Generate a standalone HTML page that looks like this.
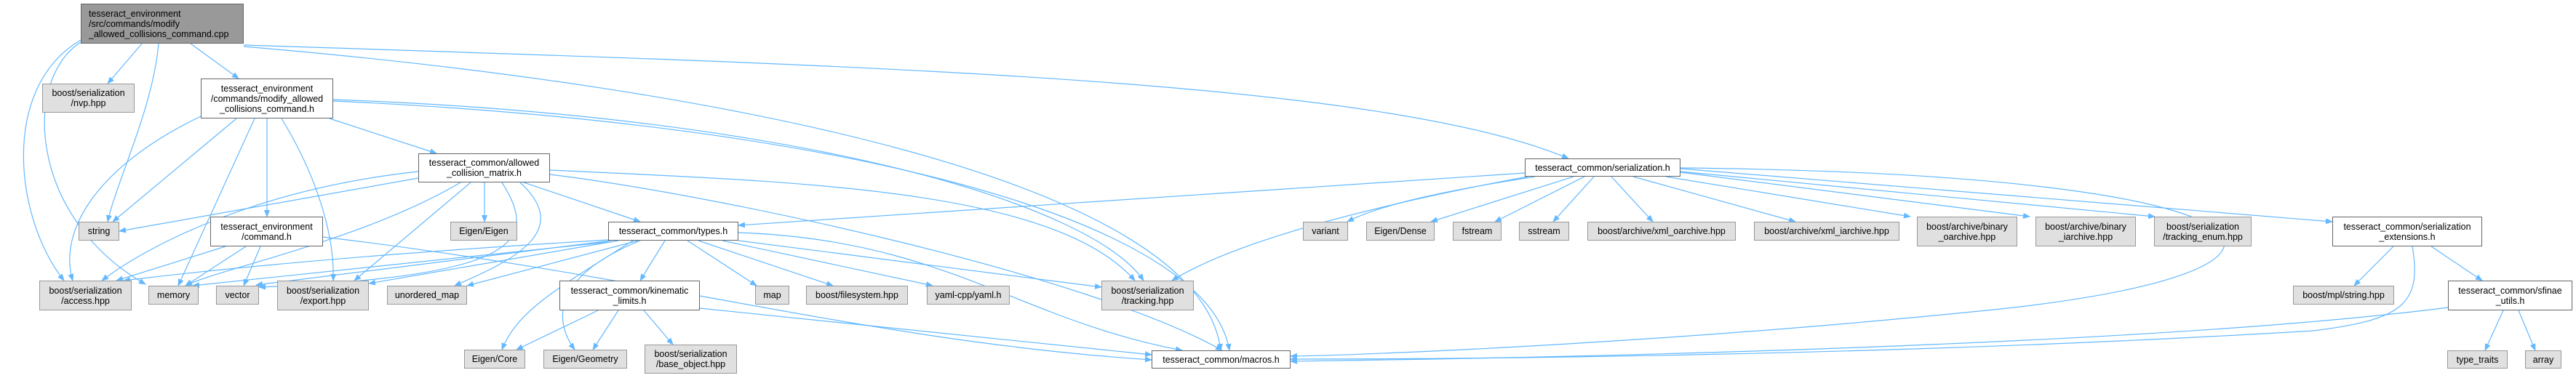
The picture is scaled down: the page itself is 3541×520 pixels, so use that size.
<!DOCTYPE html>
<html><head><meta charset="utf-8"><style>
html,body{margin:0;padding:0;background:#fff;}
#c{position:relative;width:3541px;height:520px;overflow:hidden;font-family:"Liberation Sans",sans-serif;font-size:12.5px;color:#000;}
.n{position:absolute;box-sizing:border-box;display:flex;align-items:center;justify-content:center;text-align:center;line-height:14px;background:#fff;border:1px solid #666;white-space:nowrap;}
.g{background:#e0e0e0;border-color:#999;}
svg{position:absolute;left:0;top:0;}
</style></head><body><div id="c">
<svg width="3541" height="520" viewBox="0 0 3541 520">
<defs><marker id="a" markerWidth="10" markerHeight="8" refX="9" refY="4" orient="auto" markerUnits="userSpaceOnUse"><path d="M0,0 L10,4 L0,8 z" fill="#63b8ff"/></marker></defs>
<g fill="none" stroke="#63b8ff" stroke-width="1.2" marker-end="url(#a)">
<path d="M195,60 L148,115"/>
<path d="M218,60 C210,150 160,250 148,305"/>
<path d="M262,60 L328,108"/>
<path d="M111,55 C0,120 20,300 88,386"/>
<path d="M111,58 C30,110 40,300 200,391"/>
<path d="M335,62 C1200,90 1900,110 2156,218"/>
<path d="M335,64 C1000,120 1650,250 1678,482"/>
<path d="M276,160 C130,230 80,320 100,386"/>
<path d="M325,163 L155,305"/>
<path d="M350,163 L245,393"/>
<path d="M367,163 L367,298"/>
<path d="M387,163 C440,250 460,330 458,386"/>
<path d="M453,163 L600,211"/>
<path d="M458,137 C1100,160 1500,280 1572,386"/>
<path d="M458,139 C1150,170 1660,300 1690,482"/>
<path d="M575,245 L164,318"/>
<path d="M575,236 C350,260 200,340 140,386"/>
<path d="M633,251 C500,330 300,370 255,393"/>
<path d="M647,251 L487,386"/>
<path d="M666,251 L666,305"/>
<path d="M690,251 C740,330 720,380 356,395"/>
<path d="M715,251 C790,320 700,360 625,393"/>
<path d="M720,251 L880,305"/>
<path d="M756,234 C1100,250 1450,260 1560,386"/>
<path d="M756,240 C1000,270 1500,380 1680,482"/>
<path d="M310,339 L160,386"/>
<path d="M338,339 L255,393"/>
<path d="M358,339 L335,393"/>
<path d="M444,326 C900,380 1200,470 1583,495"/>
<path d="M836,330 C500,350 300,370 170,386"/>
<path d="M836,333 L265,393"/>
<path d="M840,331 L352,392"/>
<path d="M850,331 L507,390"/>
<path d="M877,331 L642,393"/>
<path d="M870,331 C760,400 710,430 690,481"/>
<path d="M880,331 C760,380 760,440 790,481"/>
<path d="M914,331 L880,386"/>
<path d="M945,331 L1040,393"/>
<path d="M960,331 L1145,393"/>
<path d="M993,331 L1282,393"/>
<path d="M1015,331 L1514,395"/>
<path d="M1015,320 C1300,330 1400,440 1625,482"/>
<path d="M822,427 L710,481"/>
<path d="M850,427 L815,481"/>
<path d="M885,427 L925,474"/>
<path d="M962,424 L1583,488"/>
<path d="M2096,238 L1015,310"/>
<path d="M2100,243 C1900,280 1700,330 1611,386"/>
<path d="M2110,243 C2000,260 1900,280 1852,305"/>
<path d="M2163,243 L1967,305"/>
<path d="M2178,243 L2055,305"/>
<path d="M2191,243 L2135,305"/>
<path d="M2215,243 L2272,305"/>
<path d="M2245,243 L2468,305"/>
<path d="M2290,243 L2626,298"/>
<path d="M2310,237 L2790,298"/>
<path d="M2310,236 L2962,298"/>
<path d="M2310,232 L3206,305"/>
<path d="M2310,231 C3200,240 3250,380 2700,430 C2300,470 1900,488 1774,490"/>
<path d="M3290,339 L3236,393"/>
<path d="M3342,339 L3412,386"/>
<path d="M3316,339 C3330,420 3300,440 3180,455 C2600,490 2000,494 1774,494"/>
<path d="M3365,423 C3000,470 2300,490 1774,497"/>
<path d="M3441,427 L3416,482"/>
<path d="M3462,427 L3485,482"/>
</g></svg>
<div class="n" style="left:111px;top:5px;width:224px;height:55px;background:#999;justify-content:flex-start;text-align:left;padding-left:10px;">tesseract_environment<br>/src/commands/modify<br>_allowed_collisions_command.cpp</div>
<div class="n g" style="left:58px;top:115px;width:127px;height:40px;">boost/serialization<br>/nvp.hpp</div>
<div class="n" style="left:276px;top:108px;width:182px;height:55px;">tesseract_environment<br>/commands/modify_allowed<br>_collisions_command.h</div>
<div class="n" style="left:575px;top:211px;width:181px;height:40px;">tesseract_common/allowed<br>_collision_matrix.h</div>
<div class="n g" style="left:108px;top:305px;width:56px;height:26px;">string</div>
<div class="n" style="left:289px;top:298px;width:155px;height:41px;">tesseract_environment<br>/command.h</div>
<div class="n g" style="left:619px;top:305px;width:92px;height:26px;">Eigen/Eigen</div>
<div class="n" style="left:836px;top:305px;width:179px;height:26px;">tesseract_common/types.h</div>
<div class="n g" style="left:54px;top:386px;width:127px;height:41px;">boost/serialization<br>/access.hpp</div>
<div class="n g" style="left:204px;top:393px;width:69px;height:26px;">memory</div>
<div class="n g" style="left:297px;top:393px;width:59px;height:26px;">vector</div>
<div class="n g" style="left:381px;top:386px;width:126px;height:41px;">boost/serialization<br>/export.hpp</div>
<div class="n g" style="left:532px;top:393px;width:110px;height:26px;">unordered_map</div>
<div class="n" style="left:769px;top:386px;width:193px;height:41px;">tesseract_common/kinematic<br>_limits.h</div>
<div class="n g" style="left:1038px;top:393px;width:47px;height:26px;">map</div>
<div class="n g" style="left:1108px;top:393px;width:140px;height:26px;">boost/filesystem.hpp</div>
<div class="n g" style="left:1274px;top:393px;width:114px;height:26px;">yaml-cpp/yaml.h</div>
<div class="n g" style="left:1514px;top:386px;width:127px;height:41px;">boost/serialization<br>/tracking.hpp</div>
<div class="n g" style="left:638px;top:481px;width:84px;height:26px;">Eigen/Core</div>
<div class="n g" style="left:747px;top:481px;width:115px;height:26px;">Eigen/Geometry</div>
<div class="n g" style="left:886px;top:474px;width:127px;height:40px;">boost/serialization<br>/base_object.hpp</div>
<div class="n" style="left:1583px;top:482px;width:191px;height:25px;">tesseract_common/macros.h</div>
<div class="n" style="left:2096px;top:218px;width:214px;height:25px;">tesseract_common/serialization.h</div>
<div class="n g" style="left:1791px;top:305px;width:62px;height:26px;">variant</div>
<div class="n g" style="left:1878px;top:305px;width:94px;height:26px;">Eigen/Dense</div>
<div class="n g" style="left:1997px;top:305px;width:67px;height:26px;">fstream</div>
<div class="n g" style="left:2088px;top:305px;width:69px;height:26px;">sstream</div>
<div class="n g" style="left:2182px;top:305px;width:204px;height:26px;">boost/archive/xml_oarchive.hpp</div>
<div class="n g" style="left:2411px;top:305px;width:200px;height:26px;">boost/archive/xml_iarchive.hpp</div>
<div class="n g" style="left:2635px;top:298px;width:138px;height:41px;">boost/archive/binary<br>_oarchive.hpp</div>
<div class="n g" style="left:2798px;top:298px;width:138px;height:41px;">boost/archive/binary<br>_iarchive.hpp</div>
<div class="n g" style="left:2961px;top:298px;width:134px;height:41px;">boost/serialization<br>/tracking_enum.hpp</div>
<div class="n" style="left:3206px;top:298px;width:206px;height:41px;">tesseract_common/serialization<br>_extensions.h</div>
<div class="n g" style="left:3152px;top:393px;width:139px;height:26px;">boost/mpl/string.hpp</div>
<div class="n" style="left:3365px;top:386px;width:171px;height:41px;">tesseract_common/sfinae<br>_utils.h</div>
<div class="n g" style="left:3364px;top:482px;width:83px;height:25px;">type_traits</div>
<div class="n g" style="left:3471px;top:482px;width:50px;height:25px;">array</div>
</div></body></html>
